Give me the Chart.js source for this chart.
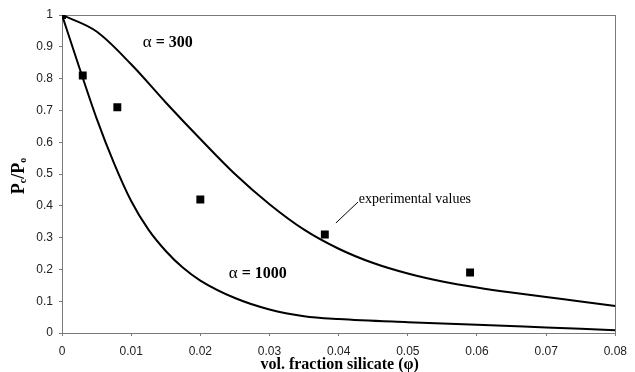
<!DOCTYPE html>
<html>
<head>
<meta charset="utf-8">
<script src="https://cdn.jsdelivr.net/npm/chart.js@4/dist/chart.umd.min.js"></script>
<style>
  html, body { margin: 0; padding: 0; background: #fff; }
  #wrap { width: 635px; height: 372px; }
</style>
</head>
<body>
<div id="wrap"><canvas id="chart"></canvas></div>
<script>
// ── Data ─────────────────────────────────────────────────────────────────────
const X_TICKS = [0, 0.01, 0.02, 0.03, 0.04, 0.05, 0.06, 0.07, 0.08];
const Y_TICKS = [0, 0.1, 0.2, 0.3, 0.4, 0.5, 0.6, 0.7, 0.8, 0.9, 1];

const phi300   = [0, 0.005, 0.01, 0.015, 0.02, 0.025, 0.03, 0.035, 0.04, 0.045, 0.05, 0.055, 0.06, 0.065, 0.07, 0.075, 0.08];
const ratio300 = [1, 0.948, 0.845, 0.725, 0.61, 0.50, 0.405, 0.325, 0.265, 0.22, 0.187, 0.162, 0.143, 0.127, 0.113, 0.099, 0.085];

const phi1000   = [0, 0.0025, 0.005, 0.0075, 0.01, 0.0125, 0.015, 0.0175, 0.02, 0.025, 0.03, 0.035, 0.04, 0.05, 0.06, 0.07, 0.08];
const ratio1000 = [1, 0.835, 0.675, 0.535, 0.415, 0.325, 0.258, 0.205, 0.165, 0.11, 0.074, 0.053, 0.044, 0.034, 0.026, 0.0175, 0.009];

const phiExp   = [0, 0.003, 0.008, 0.02, 0.038, 0.059];
const ratioExp = [1, 0.81, 0.71, 0.42, 0.31, 0.19];

const toXY = (xs, ys) => xs.map((v, i) => ({ x: v, y: ys[i] }));

// ── Frame + annotations ──────────────────────────────────────────────────────
const frame = {
  id: 'frame',
  beforeDatasetsDraw(chart) {
    const { ctx, chartArea: a } = chart;
    ctx.save();
    ctx.strokeStyle = '#7a7a7a';
    ctx.lineWidth = 1;
    ctx.strokeRect(Math.round(a.left) + 0.5, Math.round(a.top) + 0.5,
                   Math.round(a.right - a.left), Math.round(a.bottom - a.top));
    ctx.restore();
  },
  afterDraw(chart) {
    const { ctx, scales: { x, y } } = chart;
    ctx.save();
    ctx.fillStyle = '#000';
    ctx.textBaseline = 'middle';

    // alpha labels: regular alpha, bold rest
    function alphaLabel(text, cx, cy) {
      ctx.font = '17px "Liberation Serif"';
      const wa = ctx.measureText('α').width;
      ctx.font = 'bold 16px "Liberation Serif"';
      const wr = ctx.measureText(text).width;
      let px = x.getPixelForValue(cx) - (wa + wr) / 2;
      const py = y.getPixelForValue(cy);
      ctx.textAlign = 'left';
      ctx.font = '17px "Liberation Serif"';
      ctx.fillText('α', px, py);
      ctx.font = 'bold 16px "Liberation Serif"';
      ctx.fillText(text, px + wa, py);
    }
    alphaLabel(' = 300', 0.0153, 0.912);
    alphaLabel(' = 1000', 0.0283, 0.186);

    // experimental values + leader
    ctx.font = '14px "Liberation Serif"';
    ctx.textAlign = 'left';
    ctx.fillText('experimental values', x.getPixelForValue(0.0429), y.getPixelForValue(0.421));
    ctx.beginPath();
    ctx.lineWidth = 1;
    ctx.strokeStyle = '#000';
    ctx.moveTo(x.getPixelForValue(0.0396), y.getPixelForValue(0.346));
    ctx.lineTo(x.getPixelForValue(0.0428), y.getPixelForValue(0.412));
    ctx.stroke();

    // x title
    ctx.font = 'bold 16px "Liberation Serif"';
    ctx.textAlign = 'center';
    ctx.fillText('vol. fraction silicate (φ)', (x.left + x.right) / 2 + 1, 365);

    // y title P_c/P_o, rotated
    ctx.translate(19, (y.top + y.bottom) / 2 + 2);
    ctx.rotate(-Math.PI / 2);
    const parts = [['P', 'bold 18px "Liberation Serif"', 0], ['c', 'bold 10px "Liberation Serif"', 4],
                   ['/P', 'bold 18px "Liberation Serif"', 0], ['o', 'bold 10px "Liberation Serif"', 4]];
    let total = 0;
    parts.forEach(p => { ctx.font = p[1]; total += ctx.measureText(p[0]).width; });
    let px = -total / 2;
    ctx.textAlign = 'left';
    parts.forEach(p => {
      ctx.font = p[1];
      ctx.fillText(p[0], px, p[2]);
      px += ctx.measureText(p[0]).width;
    });
    ctx.restore();
  }
};

// ── Chart ────────────────────────────────────────────────────────────────────
const tickFont = { family: '"Liberation Sans"', size: 12 };
const chart = new Chart(document.getElementById('chart'), {
  type: 'line',
  data: {
    datasets: [
      { label: 'experimental values', type: 'scatter', data: toXY(phiExp, ratioExp),
        pointStyle: 'rect', pointRadius: 5.6, pointHoverRadius: 5.6,
        backgroundColor: '#000', borderColor: '#000', borderWidth: 0, order: 0 },
      { label: 'α = 300', data: toXY(phi300, ratio300), borderColor: '#000', borderWidth: 2,
        pointRadius: 0, cubicInterpolationMode: 'monotone', fill: false, order: 1 },
      { label: 'α = 1000', data: toXY(phi1000, ratio1000), borderColor: '#000', borderWidth: 2,
        pointRadius: 0, cubicInterpolationMode: 'monotone', fill: false, order: 2 },
    ],
  },
  options: {
    responsive: true,
    maintainAspectRatio: false,
    animation: false,
    layout: { padding: { top: 15, right: 13, left: 0, bottom: 0 } },
    plugins: { legend: { display: false }, tooltip: { enabled: false } },
    scales: {
      x: {
        type: 'linear', min: 0, max: 0.08,
        afterBuildTicks: s => { s.ticks = X_TICKS.map(v => ({ value: v })); },
        afterFit: s => { s.height = 39; },
        ticks: { color: '#222', font: tickFont, padding: 8, maxRotation: 0,
                 callback: v => String(+v.toFixed(2)) },
        grid: { drawOnChartArea: false, drawTicks: true, tickLength: 3, color: '#7a7a7a' },
        border: { display: true, color: '#7a7a7a' },
      },
      y: {
        type: 'linear', min: 0, max: 1,
        afterBuildTicks: s => { s.ticks = Y_TICKS.map(v => ({ value: v })); },
        afterFit: s => { s.width = 62; },
        ticks: { color: '#222', font: tickFont, padding: 6,
                 callback: v => String(+v.toFixed(1)) },
        grid: { drawOnChartArea: false, drawTicks: true, tickLength: 3, color: '#7a7a7a' },
        border: { display: true, color: '#7a7a7a' },
      },
    },
  },
  plugins: [frame],
});
</script>
</body>
</html>
